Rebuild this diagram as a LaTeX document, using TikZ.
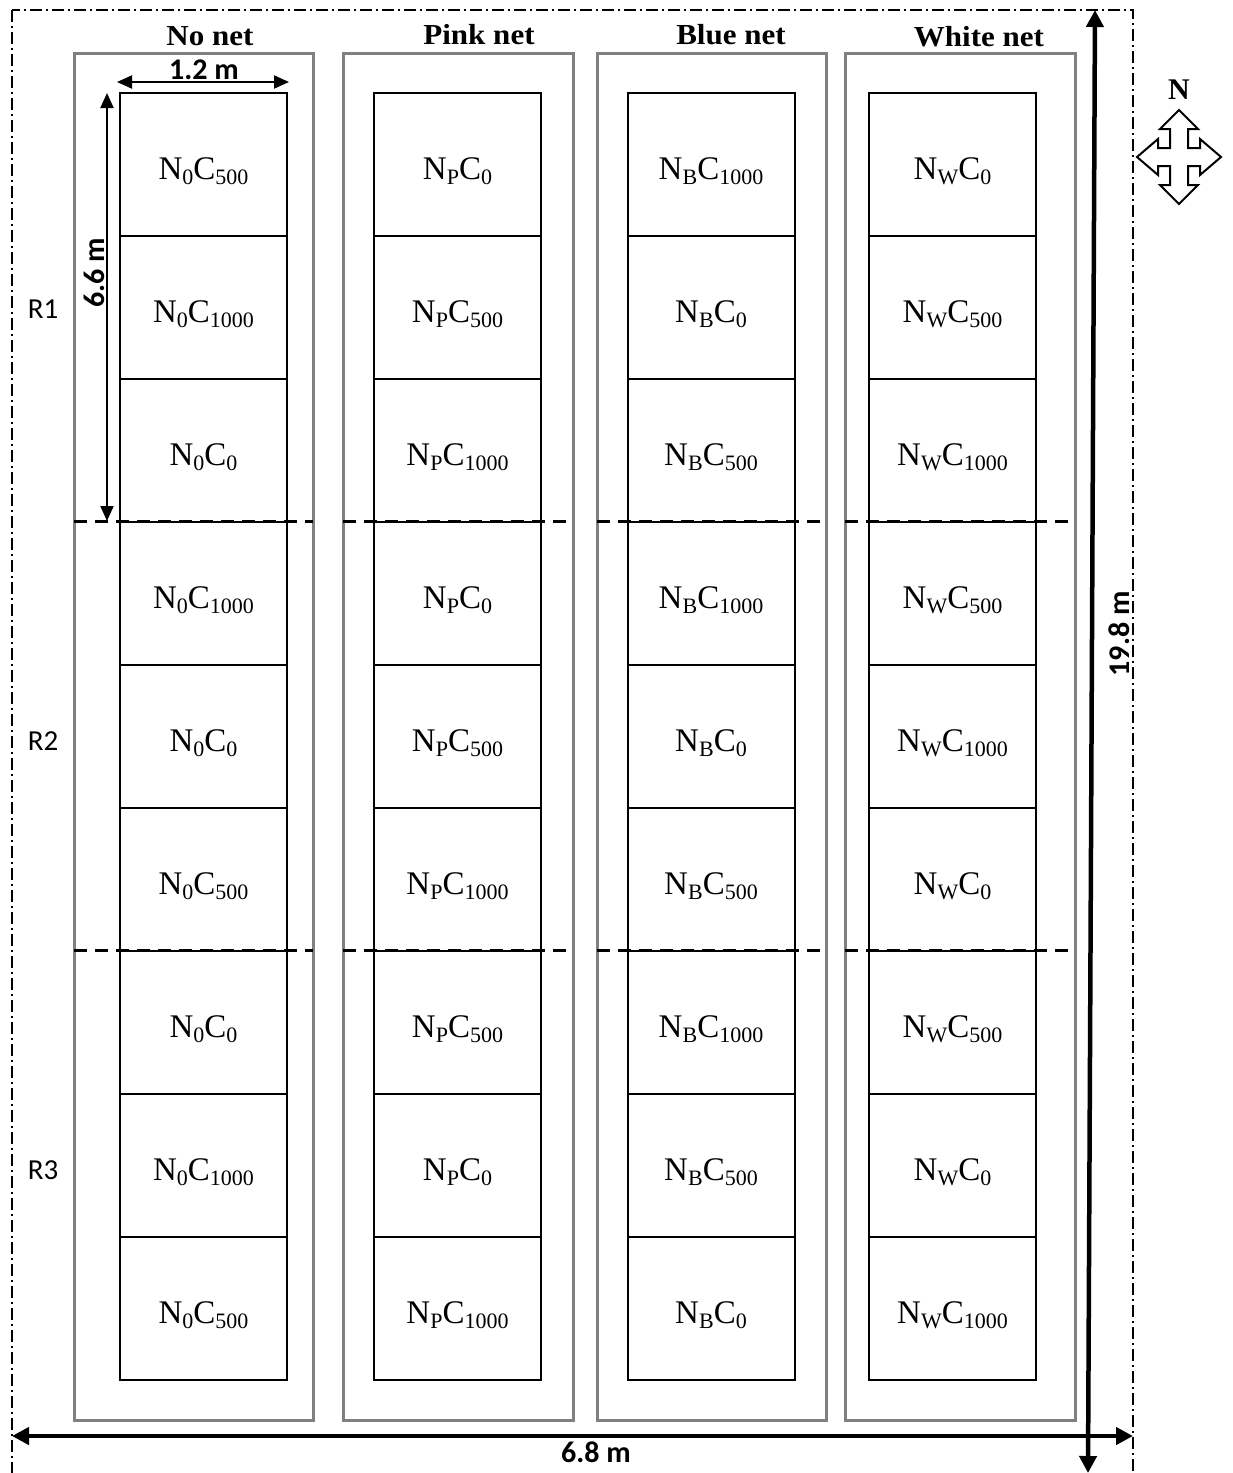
\documentclass[tikz,border=0pt]{standalone}
\usepackage{fontspec}
\setmainfont{Liberation Serif}
\newfontfamily\calib{Carlito}
\usetikzlibrary{arrows.meta}
\newcommand\plab[2]{N\raisebox{-4.5pt}{\fontsize{22}{22}\selectfont #1}C\raisebox{-4.5pt}{\fontsize{22}{22}\selectfont #2}}
\tikzset{
  plotcell/.style={draw=black,line width=2pt,minimum width=167pt,minimum height=143pt,inner sep=0pt,
    text height=30pt,text depth=0pt,font=\fontsize{33}{33}\selectfont},
  netbox/.style={draw=black!50,line width=3pt},
  reptline/.style={line width=3pt,dash pattern=on 13pt off 8pt},
  border/.style={line width=1.5pt,dash pattern=on 12pt off 4pt on 2pt off 4pt},
  title/.style={font=\fontsize{29}{29}\selectfont\bfseries,anchor=base},
  dimlab/.style={font=\calib\fontsize{30}{30}\selectfont\bfseries},
  replab/.style={font=\calib\fontsize{29}{29}\selectfont},
  bigarrow/.style={line width=4.5pt,{Triangle[length=17pt,width=17pt]}-{Triangle[length=17pt,width=17pt]}},
  smallarrow/.style={line width=2pt,{Triangle[length=15pt,width=13pt]}-{Triangle[length=15pt,width=13pt]}},
}
\begin{document}
\begin{tikzpicture}[x=1pt,y=-1pt]
\useasboundingbox (0,0) rectangle (1233,1473);
% outer border
\begin{scope}
\clip (0,0) rectangle (1233,1473);
\draw[border] (12,10) rectangle (1133,1500);
\end{scope}
% net boxes
\draw[netbox] (74,53) rectangle (313,1420);
\draw[netbox] (343,53) rectangle (573,1420);
\draw[netbox] (597,53) rectangle (826,1420);
\draw[netbox] (845,53) rectangle (1075,1420);
% titles
\node[title] (t1) at (210,45) {\scalebox{1.07}[1]{No net}};
\node[title] (t2) at (479,44) {\scalebox{1.07}[1]{Pink net}};
\node[title] (t3) at (731,44) {\scalebox{1.07}[1]{Blue net}};
\node[title] (t4) at (979,46) {\scalebox{1.07}[1]{White net}};
% cells
\foreach \col/\x/\s/\list in {1/203.5/0/{500,1000,0,1000,0,500,0,1000,500},
                              2/457.5/P/{0,500,1000,0,500,1000,500,0,1000},
                              3/711/B/{1000,0,500,1000,0,500,1000,500,0},
                              4/952.5/W/{0,500,1000,500,1000,0,500,0,1000}}{
  \foreach \c [count=\r from 0] in \list {
    \node[plotcell] (c\col-\r) at (\x,164.5+143*\r) {\plab{\s}{\c}};
  }
}
% replicate separators
\foreach \a/\b in {74/313,343/573,597/826,845/1075}{
  \draw[reptline] (\a,521) -- (\b,521);
  \draw[reptline] (\a,950) -- (\b,950);
}
% replicate labels
\node[replab] (r1) at (43,309) {R1};
\node[replab] (r2) at (43,741) {R2};
\node[replab] (r3) at (43,1170) {R3};
% dimension arrows
\coordinate (w1) at (117,82); \coordinate (w2) at (289,82);
\draw[smallarrow] (w1) -- (w2);
\node[dimlab] (l12) at (204,70) {1.2 m};
\coordinate (h1) at (107,93); \coordinate (h2) at (107,521);
\draw[smallarrow] (h1) -- (h2);
\node[dimlab,rotate=90] (l66) at (94,273) {6.6 m};
\coordinate (bw1) at (12,1436); \coordinate (bw2) at (1133,1436);
\draw[bigarrow] (bw1) -- (bw2);
\node[dimlab] (l68) at (596,1452) {6.8 m};
\coordinate (bh1) at (1095,10); \coordinate (bh2) at (1088,1473);
\draw[bigarrow] (bh1) -- (bh2);
\node[dimlab,rotate=90] (l198) at (1119,634) {19.8 m};
% north arrow
\node[font=\fontsize{30}{30}\selectfont\bfseries,anchor=base] (north) at (1179,99) {N};
\draw[line width=2pt,line join=miter,shift={(1179,157)}]
  (0,-47) -- (19,-28) -- (9,-28) -- (9,-9) -- (21,-9) -- (21,-18) -- (42,0) -- (21,18) -- (21,9)
  -- (9,9) -- (9,28) -- (19,28) -- (0,47) -- (-19,28) -- (-9,28) -- (-9,9) -- (-21,9) -- (-21,18)
  -- (-42,0) -- (-21,-18) -- (-21,-9) -- (-9,-9) -- (-9,-28) -- (-19,-28) -- cycle;
\end{tikzpicture}
\end{document}
